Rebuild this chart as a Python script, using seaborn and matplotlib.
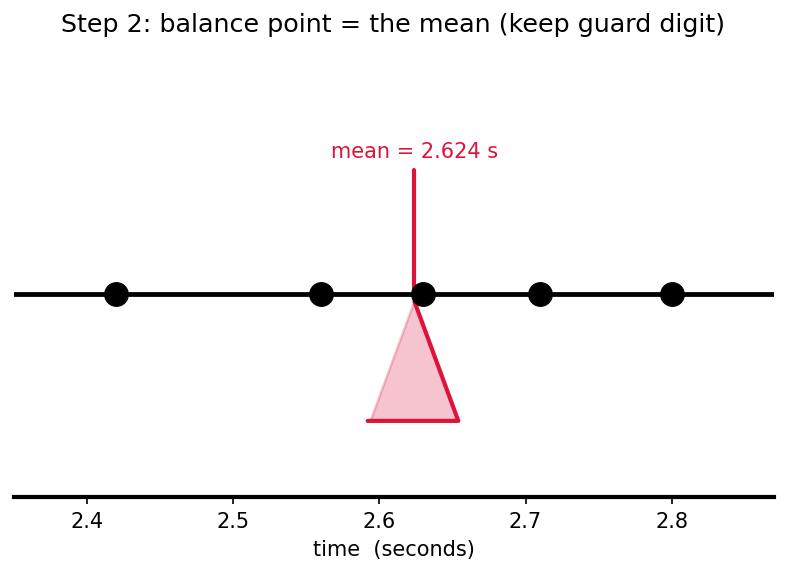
import numpy as np
import pandas as pd
import matplotlib
matplotlib.use("Agg")
import matplotlib.pyplot as plt
import seaborn as sns
from matplotlib.patches import Polygon

times = [2.42, 2.56, 2.63, 2.71, 2.80]
tick_values = [2.4, 2.5, 2.6, 2.7, 2.8]
title = "Step 2: balance point = the mean (keep guard digit)"
xlabel = "time  (seconds)"
crimson = "#DC143C"

sns.set_style("white")
plt.rcParams['font.family'] = ['DejaVu Sans']
plt.rcParams['text.color'] = 'black'
plt.rcParams['axes.labelcolor'] = 'black'
plt.rcParams['xtick.color'] = 'black'

mean = float(np.mean(times))
df = pd.DataFrame({"time": times, "y": [0.0] * len(times)})

fig = plt.figure(figsize=(787 / 150, 573 / 150), dpi=150)
ax = fig.add_axes([14 / 787, 1 - 497 / 573, (774 - 14) / 787, (497 - 91) / 573])

xmin, xmax = min(times) - 0.07, max(times) + 0.07
ax.set_xlim(xmin, xmax)
ax.set_ylim(-1.6, 1.6)

# beam
beam = pd.DataFrame({"x": [xmin, xmax], "y": [0, 0]})
sns.lineplot(data=beam, x="x", y="y", color="black", lw=2.3, ax=ax, zorder=2)

# fulcrum triangle
hw = 0.03
tri = Polygon([[mean, -0.06], [mean - hw, -1.0], [mean + hw, -1.0]], closed=True,
              facecolor=crimson, edgecolor=crimson, alpha=0.25, lw=1.2, zorder=1)
ax.add_patch(tri)
edge = pd.DataFrame({"x": [mean - hw - 0.002, mean + hw, mean], "y": [-1.0, -1.0, -0.06]})
ax.plot(edge["x"], edge["y"], color=crimson, lw=2, zorder=1.5)

# mean line
ax.plot([mean, mean], [0, 0.98], color=crimson, lw=2, zorder=2.5)
ax.text(mean, 1.12, f"mean = {mean:.3f} s", color=crimson, fontsize=10,
        ha="center", va="center")

# points
sns.scatterplot(data=df, x="time", y="y", color="black", s=130, edgecolor="black",
                linewidth=0.5, ax=ax, zorder=3)

ax.set_xticks(tick_values)
ax.set_xticklabels([f"{v:.1f}" for v in tick_values], fontsize=10)
ax.set_yticks([])
ax.set_ylabel("")
ax.set_xlabel(xlabel, fontsize=10)
for s in ["left", "right", "top"]:
    ax.spines[s].set_visible(False)
ax.spines["bottom"].set_linewidth(2)
ax.spines["bottom"].set_color("black")
ax.tick_params(axis="x", bottom=True, length=3.5, width=0.8, color="black", pad=3.5)

fig.suptitle(title, fontsize=12.2, y=1 - 25 / 573, va="center", color="black")

fig.savefig("out.png", dpi=150)
